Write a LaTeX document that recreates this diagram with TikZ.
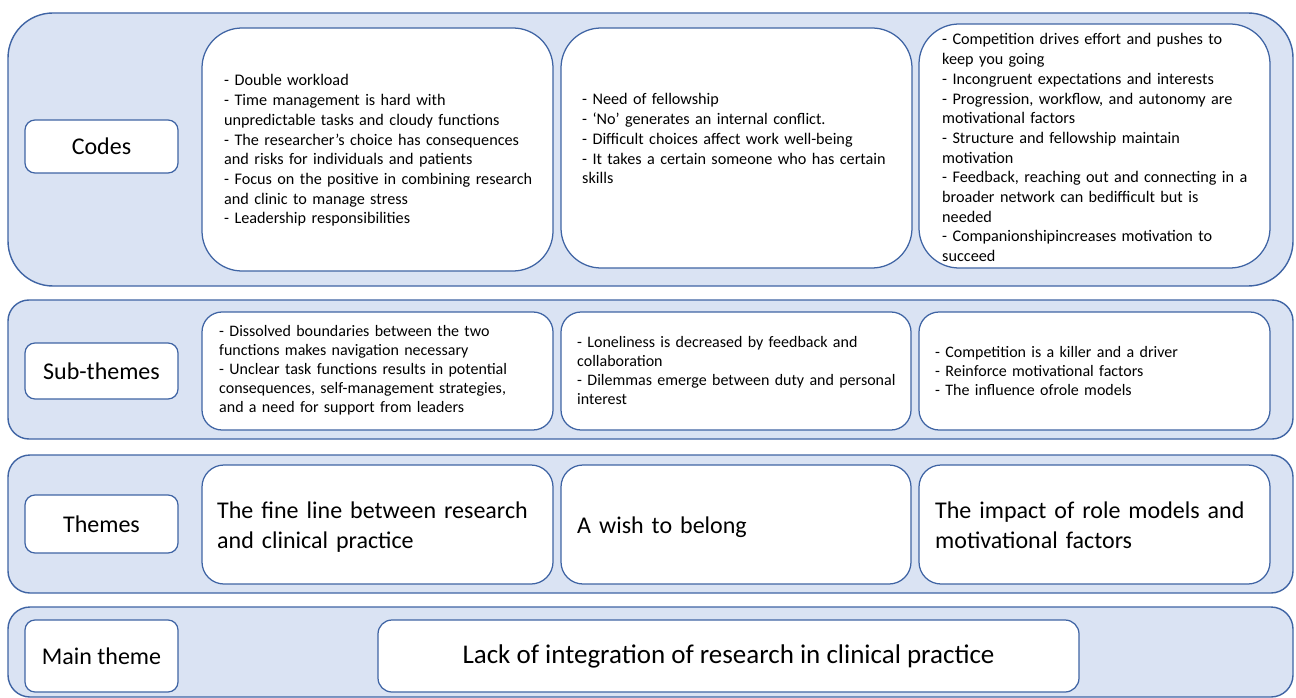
\documentclass[tikz,border=0pt]{standalone}
\usepackage{fontspec}
\setmainfont{Carlito}
\definecolor{rowfill}{HTML}{DAE3F3}
\definecolor{edge}{HTML}{3F64A4}
\begin{document}
\begin{tikzpicture}[x=1pt,y=-1pt,
  panel/.style={draw=edge, anchor=north west, inner sep=0pt, outer sep=0pt},
  band/.style={panel, fill=rowfill, line width=1.4pt},
  card/.style={panel, fill=white, line width=1.25pt},
  tag/.style={card, rounded corners=10pt, minimum width=153pt,
    font=\fontsize{24}{29}\selectfont},
  headline/.style={anchor=base west, inner sep=0pt, text width=330pt, align=left,
    font=\fontsize{24}{30}\selectfont},
  codetext/.style={anchor=base west, inner sep=0pt, text width=340pt, align=left,
    font=\fontsize{16.2}{19.7}\selectfont},
  subtext/.style={anchor=base west, inner sep=0pt, text width=340pt, align=left,
    font=\fontsize{16}{19.2}\selectfont}]

\useasboundingbox (0,0) rectangle (1296,698);
\fill[white] (0,0) rectangle (1296,698);

% ---- Codes ----
\node[band, rounded corners=45pt, minimum width=1285pt, minimum height=273pt] (codesrow) at (8,13) {};
\node[tag, minimum height=53pt] (codes) at (25,120) {Codes};
\node[card, rounded corners=40pt, minimum width=351pt, minimum height=243pt] (codeA) at (202,28) {};
\node[card, rounded corners=40pt, minimum width=351pt, minimum height=240pt] (codeB) at (561,28) {};
\node[card, rounded corners=40pt, minimum width=351pt, minimum height=244pt] (codeC) at (919,24) {};
\node[codetext] (codeAtext) at (224,86) {- Double workload\\
- Time management is hard with\\
unpredictable tasks and cloudy functions\\
- The researcher’s choice has consequences\\
and risks for individuals and patients\\
- Focus on the positive in combining research\\
and clinic to manage stress\\
- Leadership responsibilities};
\node[codetext] (codeBtext) at (582,105) {- Need of fellowship\\
- ‘No’ generates an internal conflict.\\
- Difficult choices affect work well-being\\
- It takes a certain someone who has certain\\
skills};
\node[codetext] (codeCtext) at (942,45) {- Competition drives effort and pushes to\\
keep you going\\
- Incongruent expectations and interests\\
- Progression, workflow, and autonomy are\\
motivational factors\\
- Structure and fellowship maintain\\
motivation\\
- Feedback, reaching out and connecting in a\\
broader network can bedifficult but is\\
needed\\
- Companionshipincreases motivation to\\
succeed};

% ---- Sub-themes ----
\node[band, rounded corners=21pt, minimum width=1285pt, minimum height=139pt] (subrow) at (8,300) {};
\node[tag, minimum height=56pt] (subthemes) at (25,343) {Sub-themes};
\node[card, rounded corners=20pt, minimum width=351pt, minimum height=118pt] (subA) at (202,312) {};
\node[card, rounded corners=20pt, minimum width=350pt, minimum height=118pt] (subB) at (561,312) {};
\node[card, rounded corners=20pt, minimum width=351pt, minimum height=118pt] (subC) at (919,312) {};
\node[subtext] (subAtext) at (219,336) {- Dissolved boundaries between the two\\
functions makes navigation necessary\\
- Unclear task functions results in potential\\
consequences, self-management strategies,\\
and a need for support from leaders};
\node[subtext] (subBtext) at (577,347) {- Loneliness is decreased by feedback and\\
collaboration\\
- Dilemmas emerge between duty and personal\\
interest};
\node[subtext] (subCtext) at (935,357) {- Competition is a killer and a driver\\
- Reinforce motivational factors\\
- The influence ofrole models};

% ---- Themes ----
\node[band, rounded corners=22pt, minimum width=1285pt, minimum height=138pt] (themerow) at (8,455) {};
\node[tag, minimum height=58pt] (themes) at (25,495) {Themes};
\node[card, rounded corners=22pt, minimum width=351pt, minimum height=119pt] (themeA) at (202,465) {};
\node[card, rounded corners=22pt, minimum width=350pt, minimum height=119pt] (themeB) at (561,465) {};
\node[card, rounded corners=22pt, minimum width=351pt, minimum height=119pt] (themeC) at (919,465) {};
\node[headline] (themeAtext) at (217,518) {The fine line between research\\and clinical practice};
\node[headline] (themeBtext) at (577,533) {A wish to belong};
\node[headline] (themeCtext) at (935,518) {The impact of role models and\\motivational factors};

% ---- Main theme ----
\node[band, rounded corners=22pt, minimum width=1285pt, minimum height=90pt] (mainrow) at (8,607) {};
\node[tag, minimum height=72pt] (maintheme) at (25,620) {Main theme};
\node[card, rounded corners=14pt, minimum width=701pt, minimum height=72pt,
  font=\fontsize{27}{32}\selectfont] (mainA) at (378,620) {Lack of integration of research in clinical practice};
\end{tikzpicture}
\end{document}
